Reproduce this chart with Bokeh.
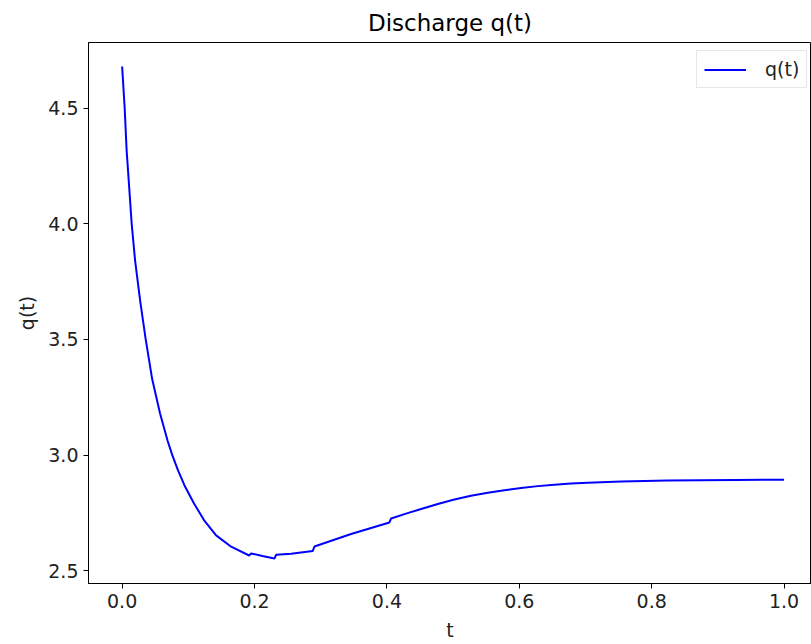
from bokeh.plotting import figure
from bokeh.models import Range1d, Legend, LegendItem, FixedTicker, PrintfTickFormatter
from bokeh.embed import file_html
from bokeh.resources import INLINE

# data
t_vals = [0.0, 0.0038, 0.0068, 0.0106, 0.0144, 0.0196, 0.0272, 0.0355, 0.0453, 0.0574,
          0.0687, 0.0755, 0.0846, 0.0952, 0.1088, 0.1239, 0.142, 0.1647, 0.1918, 0.1949,
          0.212, 0.2301, 0.2326, 0.2553, 0.288, 0.2905, 0.3459, 0.4038, 0.4063, 0.43,
          0.4517, 0.4769, 0.502, 0.527, 0.5524, 0.5775, 0.6027, 0.6279, 0.653, 0.678,
          0.7035, 0.7538, 0.8243, 0.925, 1.0]
q_vals = [4.680, 4.503, 4.317, 4.161, 4.001, 3.841, 3.668, 3.503, 3.330, 3.179,
          3.062, 3.002, 2.933, 2.863, 2.790, 2.718, 2.653, 2.604, 2.566, 2.575,
          2.564, 2.553, 2.569, 2.574, 2.586, 2.605, 2.659, 2.709, 2.726, 2.748,
          2.767, 2.789, 2.808, 2.824, 2.837, 2.848, 2.858, 2.866, 2.872, 2.877,
          2.881, 2.886, 2.890, 2.893, 2.894]
x_ticks = [0.0, 0.2, 0.4, 0.6, 0.8, 1.0]
y_ticks = [2.5, 3.0, 3.5, 4.0, 4.5]

FONT = "DejaVu Sans"

p = figure(width=811, height=644, output_backend="svg", toolbar_location=None,
           x_range=Range1d(-0.0508, 1.0414), y_range=Range1d(2.445, 4.784),
           min_border_left=88, min_border_right=0, min_border_top=42,
           min_border_bottom=61, title="Discharge q(t)")

p.title.align = "center"
p.title.text_font = FONT
p.title.text_font_size = "23px"
p.title.text_font_style = "normal"
p.title.text_color = "black"
p.title.standoff = 13

p.xgrid.visible = False
p.ygrid.visible = False
p.outline_line_color = "black"
p.outline_line_width = 1
p.background_fill_color = "white"
p.border_fill_color = "white"

for ax in (p.xaxis[0], p.yaxis[0]):
    ax.axis_line_color = "black"
    ax.major_tick_line_color = "black"
    ax.major_tick_out = 5
    ax.major_tick_in = 0
    ax.minor_tick_line_color = None
    ax.major_label_text_font = FONT
    ax.major_label_text_font_size = "19px"
    ax.major_label_text_color = "#222222"
    ax.major_label_standoff = 5
    ax.axis_label_text_font = FONT
    ax.axis_label_text_font_size = "19px"
    ax.axis_label_text_font_style = "normal"
    ax.axis_label_text_color = "#222222"
    ax.formatter = PrintfTickFormatter(format="%.1f")

p.xaxis[0].ticker = FixedTicker(ticks=x_ticks)
p.yaxis[0].ticker = FixedTicker(ticks=y_ticks)
p.xaxis[0].axis_label = "t"
p.yaxis[0].axis_label = "q(t)"
p.xaxis[0].axis_label_standoff = 8
p.yaxis[0].axis_label_standoff = 7

r = p.line(t_vals, q_vals, line_color="#0000ff", line_width=2)

legend = Legend(items=[LegendItem(label="q(t)", renderers=[r])],
                location=(608, 495))
legend.label_text_font = FONT
legend.label_text_font_size = "19px"
legend.label_text_color = "#222222"
legend.label_height = 21
legend.glyph_width = 42
legend.glyph_height = 21
legend.label_standoff = 19
legend.padding = 7
legend.margin = 0
legend.spacing = 0
legend.border_line_color = "#d0d0d0"
legend.border_line_width = 1
legend.background_fill_alpha = 0.8
p.add_layout(legend)

open("out.html", "w").write(file_html(p, INLINE))
